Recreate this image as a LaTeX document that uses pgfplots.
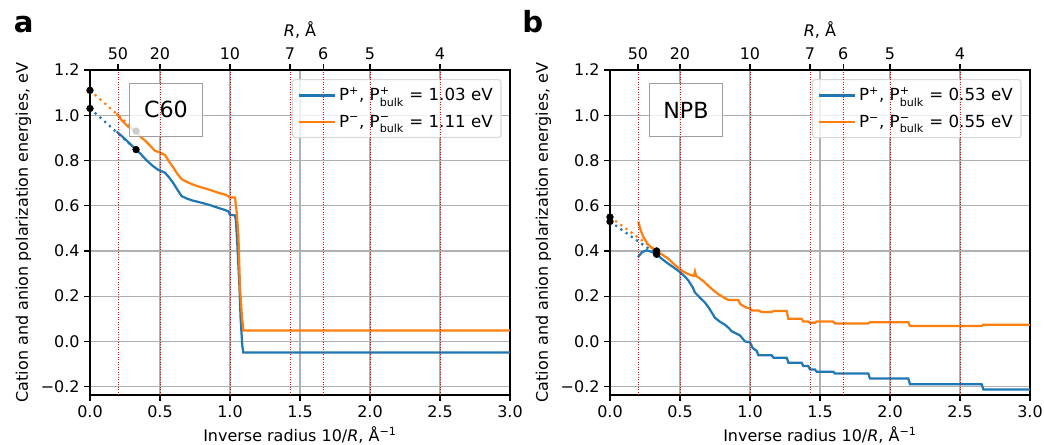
\documentclass[border=0pt]{standalone}
\usepackage{pgfplots}
\pgfplotsset{compat=1.18}
\usepackage{fontspec}
\setmainfont{DejaVu Sans}
\usepackage{amsmath}

\definecolor{tabblue}{HTML}{1F77B4}
\definecolor{taborange}{HTML}{FF7F0E}
\definecolor{gridgray}{HTML}{B0B0B0}

\pgfplotstableread{
x y
0.19 0.928
0.25 0.895
0.329 0.848
0.36 0.83
0.405 0.80
0.45 0.775
0.488 0.758
0.536 0.746
0.565 0.725
0.595 0.70
0.625 0.67
0.655 0.642
0.69 0.632
0.726 0.624
0.77 0.617
0.821 0.609
0.87 0.60
0.917 0.59
0.96 0.582
0.988 0.575
1.0 0.56
1.036 0.557
1.043 0.532
1.055 0.398
1.067 0.249
1.076 0.1
1.088 -0.02
1.095 -0.049
3.0 -0.049
}\cplus

\pgfplotstableread{
x y
0.19 1.008
0.23 0.975
0.274 0.948
0.329 0.93
0.36 0.905
0.393 0.888
0.43 0.865
0.464 0.843
0.5 0.835
0.536 0.824
0.565 0.795
0.595 0.769
0.625 0.74
0.655 0.717
0.7 0.703
0.75 0.69
0.8 0.68
0.845 0.672
0.88 0.665
0.917 0.657
0.96 0.65
0.988 0.642
1.0 0.636
1.036 0.636
1.048 0.569
1.06 0.472
1.071 0.249
1.083 0.13
1.095 0.048
3.0 0.048
}\cminus

\pgfplotstableread{
x y
0.20 0.373
0.23 0.395
0.262 0.403
0.30 0.395
0.333 0.385
0.37 0.365
0.417 0.343
0.46 0.325
0.5 0.306
0.53 0.29
0.56 0.269
0.59 0.24
0.607 0.216
0.64 0.195
0.679 0.171
0.71 0.145
0.75 0.104
0.79 0.085
0.821 0.074
0.85 0.058
0.869 0.045
0.9 0.035
0.929 0.026
0.964 0.0
1.0 -0.004
1.02 -0.03
1.048 -0.042
1.06 -0.061
1.155 -0.061
1.167 -0.072
1.262 -0.072
1.274 -0.094
1.369 -0.094
1.381 -0.109
1.417 -0.109
1.429 -0.124
1.464 -0.124
1.476 -0.134
1.595 -0.134
1.607 -0.142
1.845 -0.142
1.857 -0.164
2.131 -0.164
2.143 -0.19
2.655 -0.19
2.667 -0.213
3.0 -0.213
}\nplus

\pgfplotstableread{
x y
0.202 0.53
0.22 0.49
0.238 0.462
0.27 0.43
0.298 0.413
0.333 0.40
0.37 0.385
0.417 0.365
0.46 0.34
0.512 0.313
0.55 0.30
0.588 0.291
0.6 0.29
0.607 0.309
0.615 0.29
0.631 0.283
0.67 0.265
0.702 0.246
0.74 0.225
0.774 0.209
0.81 0.195
0.845 0.183
0.917 0.183
0.93 0.165
0.964 0.152
1.0 0.145
1.012 0.137
1.06 0.137
1.083 0.13
1.155 0.13
1.167 0.134
1.262 0.134
1.274 0.1
1.369 0.1
1.381 0.088
1.417 0.088
1.429 0.082
1.464 0.082
1.476 0.088
1.595 0.088
1.607 0.079
1.845 0.079
1.857 0.085
2.131 0.085
2.143 0.068
2.655 0.068
2.667 0.074
3.0 0.074
}\nminus

\pgfplotsset{
  common/.style={
    scale only axis, width=302.4pt, height=234pt,
    xmin=0, xmax=3, ymin=-0.237, ymax=1.2,
    clip=false,
    tick align=outside,
    major tick length=4pt,
    every tick/.style={black, line width=0.9pt},
    axis line style={line width=0.9pt},
    tick label style={font=\fontsize{11.5}{13}\selectfont},
    label style={font=\fontsize{11.5}{13}\selectfont},
  },
  main/.style={
    common,
    xtick={0,0.5,1,1.5,2,2.5,3},
    xticklabels={0.0,0.5,1.0,1.5,2.0,2.5,3.0},
    ytick={-0.2,0,0.2,0.4,0.6,0.8,1.0,1.2},
    yticklabels={−0.2,0.0,0.2,0.4,0.6,0.8,1.0,1.2},
    xtick pos=bottom, ytick pos=left,
    grid=major,
    major grid style={gridgray, line width=0.9pt},
    xlabel={Inverse radius 10/\textit{R}, Å\textsuperscript{−1}},
    ylabel={Cation and anion polarization energies, eV},
    legend cell align=left,
    legend image code/.code={\draw[##1] (0pt,0pt) -- (26pt,0pt);},
    legend style={at={(rel axis cs:0.98,0.972)}, anchor=north east,
      draw=gray!30, line width=0.8pt, rounded corners=2pt, fill=white, fill opacity=0.8,
      text opacity=1, font=\fontsize{12}{14}\selectfont,
      row sep=4.5pt, inner xsep=4pt, inner ysep=4pt},
  },
  top/.style={
    common,
    axis x line*=top, axis y line=none,
    xtick={0.2,0.5,1,1.428571,1.666667,2,2.5},
    xticklabels={50,20,10,7,6,5,4},
    xlabel={\textit{R}, Å},
  },
  curve/.style={line width=1.6pt},
  extrap/.style={line width=1.6pt, dash pattern=on 1.6pt off 3pt, forget plot},
  dots/.style={only marks, mark=*, mark size=2.4pt, black, forget plot},
  vl/.style={red, line width=0.7pt, dash pattern=on 0.7pt off 1.1pt, forget plot},
}
\tikzset{
  textbox/.style={draw=gray!75, line width=1.1pt, fill=white, fill opacity=0.8,
    text opacity=1, minimum width=52.8pt, minimum height=38pt,
    font=\fontsize{16}{18}\selectfont},
}

\newcommand{\vlines}{%
  \addplot[vl] coordinates {(0.2,-0.237) (0.2,1.2)};
  \addplot[vl] coordinates {(0.5,-0.237) (0.5,1.2)};
  \addplot[vl] coordinates {(1,-0.237) (1,1.2)};
  \addplot[vl] coordinates {(1.428571,-0.237) (1.428571,1.2)};
  \addplot[vl] coordinates {(1.666667,-0.237) (1.666667,1.2)};
  \addplot[vl] coordinates {(2,-0.237) (2,1.2)};
  \addplot[vl] coordinates {(2.5,-0.237) (2.5,1.2)};
}

\begin{document}
\begin{tikzpicture}
\path[use as bounding box] (0,0) rectangle (751.7pt,320.4pt);

% panel a
\begin{axis}[main, at={(64.8pt,36pt)}, anchor=south west]
  \addplot[extrap, tabblue] coordinates {(0,1.03) (0.329,0.848)};
  \addplot[extrap, taborange] coordinates {(0,1.11) (0.329,0.93)};
  \addplot[curve, tabblue] table {\cplus};
  \addlegendentry{P\textsuperscript{+}, P$^{\text{+}}_{\text{bulk}}$ = 1.03 eV}
  \addplot[curve, taborange] table {\cminus};
  \addlegendentry{P\textsuperscript{−}, P$^{\text{−}}_{\text{bulk}}$ = 1.11 eV}
  \addplot[dots] coordinates {(0,1.03) (0,1.11) (0.329,0.848) (0.329,0.93)};
  \coordinate (boxa) at (axis cs:0.5425,1.0235);
\end{axis}
\node[textbox] at (boxa) {C60};
\begin{axis}[top, at={(64.8pt,36pt)}, anchor=south west]
  \vlines
\end{axis}

% panel b
\begin{axis}[main, at={(439.2pt,36pt)}, anchor=south west]
  \addplot[extrap, tabblue] coordinates {(0,0.53) (0.333,0.385)};
  \addplot[extrap, taborange] coordinates {(0,0.55) (0.333,0.40)};
  \addplot[curve, tabblue] table {\nplus};
  \addlegendentry{P\textsuperscript{+}, P$^{\text{+}}_{\text{bulk}}$ = 0.53 eV}
  \addplot[curve, taborange] table {\nminus};
  \addlegendentry{P\textsuperscript{−}, P$^{\text{−}}_{\text{bulk}}$ = 0.55 eV}
  \addplot[dots] coordinates {(0,0.53) (0,0.55) (0.333,0.385) (0.333,0.40)};
  \coordinate (boxb) at (axis cs:0.5425,1.0235);
\end{axis}
\node[textbox] at (boxb) {NPB};
\begin{axis}[top, at={(439.2pt,36pt)}, anchor=south west]
  \vlines
\end{axis}

\node[anchor=base west, font=\fontsize{21}{24}\selectfont\bfseries] at (6.5pt,297pt) {a};
\node[anchor=base west, font=\fontsize{21}{24}\selectfont\bfseries] at (372.5pt,297pt) {b};
\end{tikzpicture}
\end{document}
